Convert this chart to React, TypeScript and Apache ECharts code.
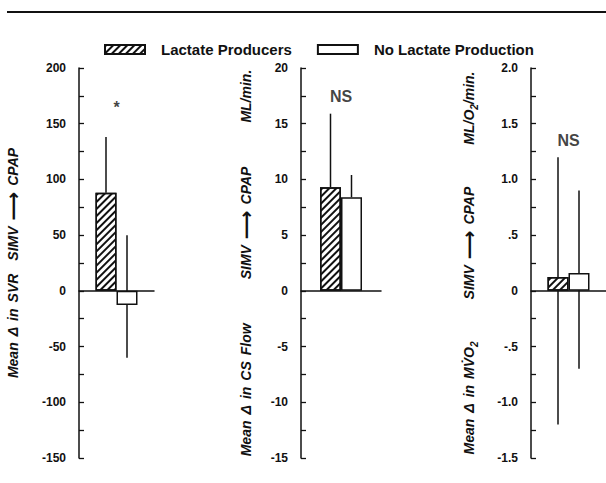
import React, { useEffect, useRef } from "react";
import * as echarts from "echarts";

const seriesNames = ["Lactate Producers", "No Lactate Production"];
const categories = [""];

// Panel 1: SVR
const svrMean = [88, -12.6];
const svrHigh = [138, 50];
const svrLow = [88, -60];
const svrTicks = ["-150", "-100", "-50", "0", "50", "100", "150", "200"];

// Panel 2: CS flow
const flowMean = [9.3, 8.4];
const flowHigh = [15.9, 10.4];
const flowLow = [9.3, 8.4];
const flowTicks = ["-15", "-10", "-5", "0", "5", "10", "15", "20"];

// Panel 3: MVO2
const mvoMean = [0.125, 0.16];
const mvoHigh = [1.2, 0.9];
const mvoLow = [-1.2, -0.7];
const mvoTicks = ["-1.5", "-1.0", "-.5", "0", ".5", "1.0", "1.5", "2.0"];

const annoText = ["*", "NS", "NS"];
const annoValue = [165, 17.4, 1.35];

// tick step (every tick) — labels are shown on every second tick
const axisRanges = [
  { min: -150, max: 200, interval: 25 },
  { min: -15, max: 20, interval: 2.5 },
  { min: -1.5, max: 2, interval: 0.25 },
];

const BAR_W = 21;
const FONT = "Liberation Sans";

export default function App() {
  const ref = useRef<HTMLDivElement>(null);
  useEffect(() => {
    const chart = echarts.init(ref.current!, null, { renderer: "svg" });
    const means = [svrMean, flowMean, mvoMean];
    const highs = [svrHigh, flowHigh, mvoHigh];
    const lows = [svrLow, flowLow, mvoLow];
    const ticks = [svrTicks, flowTicks, mvoTicks];

    const grids = [
      { left: 79, top: 68, width: 75, height: 390 },
      { left: 301, top: 68, width: 80, height: 390 },
      { left: 531, top: 68, right: 0, height: 390 },
    ];

    const t = { fontFamily: FONT, fontWeight: "bold", fontStyle: "italic", fontSize: 14, color: "#111" };
    const nameStyle = {
      ...t,
      rich: {
        t,
        w: { width: 6 },
        a: { fontFamily: "DejaVu Sans", fontWeight: "bold", fontSize: 20, color: "#111" },
        g1: { width: 13 },
        g2: { width: 44 },
        g3: { width: 42 },
        sub: { fontFamily: FONT, fontWeight: "bold", fontSize: 10, color: "#111", padding: [10, 0, 0, 0] },
      },
    };
    const arrow = "{w|}{a|⟶}{w|}";
    const names = [
      `{t|Mean}{w|}{t|Δ}{w|}{t|in}{w|}{t|SVR}{g1|}{t|SIMV}${arrow}{t|CPAP}`,
      `{t|Mean}{w|}{t|Δ}{w|}{t|in}{w|}{t|CS}{w|}{t|Flow}{g2|}{t|SIMV}${arrow}{t|CPAP}{g2|}{t|ML/min.}`,
      `{t|Mean}{w|}{t|Δ}{w|}{t|in}{w|}{t|MV̇O}{sub|2}{g3|}{t|SIMV}${arrow}{t|CPAP}{g3|}{t|ML/O}{sub|2}{t|/min.}`,
    ];
    const nameGaps = [56, 45, 52];

    const xAxis: any[] = [];
    const yAxis: any[] = [];
    const series: any[] = [];

    for (let p = 0; p < 3; p++) {
      xAxis.push({
        type: "category",
        gridIndex: p,
        data: categories,
        axisLine: { show: true, onZero: true, lineStyle: { color: "#111", width: 1.5 } },
        axisTick: { show: false },
        axisLabel: { show: false },
        splitLine: { show: false },
      });
      const tl = ticks[p];
      yAxis.push({
        type: "value",
        gridIndex: p,
        ...axisRanges[p],
        name: names[p],
        nameLocation: "middle",
        nameRotate: 90,
        nameGap: nameGaps[p],
        nameTextStyle: nameStyle,
        axisLine: { show: true, lineStyle: { color: "#111", width: 1.5 } },
        axisTick: { show: true, inside: true, length: 5, lineStyle: { color: "#111", width: 1.3 } },
        axisLabel: {
          fontFamily: FONT,
          fontWeight: "bold",
          fontSize: 12,
          color: "#111",
          margin: 13,
          formatter: (_v: number, i: number) => (i % 2 === 0 ? tl[i / 2] : ""),
        },
        splitLine: { show: false },
      });

      for (let s = 0; s < 2; s++) {
        const hatched = s === 0;
        series.push({
          type: "bar",
          name: seriesNames[s],
          xAxisIndex: p,
          yAxisIndex: p,
          data: [means[p][s]],
          barWidth: BAR_W,
          barGap: "0%",
          z: 3,
          itemStyle: {
            color: "#fff",
            borderColor: "#111",
            borderWidth: 1.5,
            decal: hatched
              ? {
                  symbol: "rect",
                  symbolSize: 1,
                  dashArrayX: [1, 0],
                  dashArrayY: [1.5, 3],
                  rotation: -Math.PI / 4,
                  color: "#111",
                  backgroundColor: "#fff",
                }
              : undefined,
          },
        });
        const offset = (s === 0 ? -1 : 1) * (BAR_W / 2);
        series.push({
          type: "custom",
          xAxisIndex: p,
          yAxisIndex: p,
          z: 2,
          silent: true,
          data: [[0, lows[p][s], highs[p][s]]],
          renderItem: (_params: any, api: any) => {
            const a = api.coord([api.value(0), api.value(1)]);
            const b = api.coord([api.value(0), api.value(2)]);
            return {
              type: "line",
              shape: { x1: a[0] + offset, y1: a[1], x2: b[0] + offset, y2: b[1] },
              style: { stroke: "#111", lineWidth: 1.5 },
            };
          },
        });
      }

      series.push({
        type: "scatter",
        xAxisIndex: p,
        yAxisIndex: p,
        symbolSize: 0,
        z: 5,
        data: [[0, annoValue[p]]],
        label: {
          show: true,
          position: "inside",
          formatter: () => annoText[p],
          fontFamily: FONT,
          fontWeight: "bold",
          fontSize: 16,
          color: "#111",
        },
      });
    }

    chart.setOption({
      animation: false,
      backgroundColor: "#fff",
      legend: {
        data: seriesNames,
        top: 42,
        left: 104,
        padding: 0,
        icon: "rect",
        itemWidth: 40,
        itemHeight: 9,
        itemGap: 25,
        textStyle: { fontFamily: FONT, fontWeight: "bold", fontSize: 15, color: "#111", padding: [0, 0, 0, 11] },
      },
      graphic: [
        {
          type: "line",
          shape: { x1: 7, y1: 12, x2: 606, y2: 12 },
          style: { stroke: "#111", lineWidth: 2 },
        },
      ],
      grid: grids,
      xAxis,
      yAxis,
      series,
    });
    return () => chart.dispose();
  }, []);
  return <div ref={ref} style={{ width: 606, height: 483, position: "absolute", left: 0, top: 0 }} />;
}
